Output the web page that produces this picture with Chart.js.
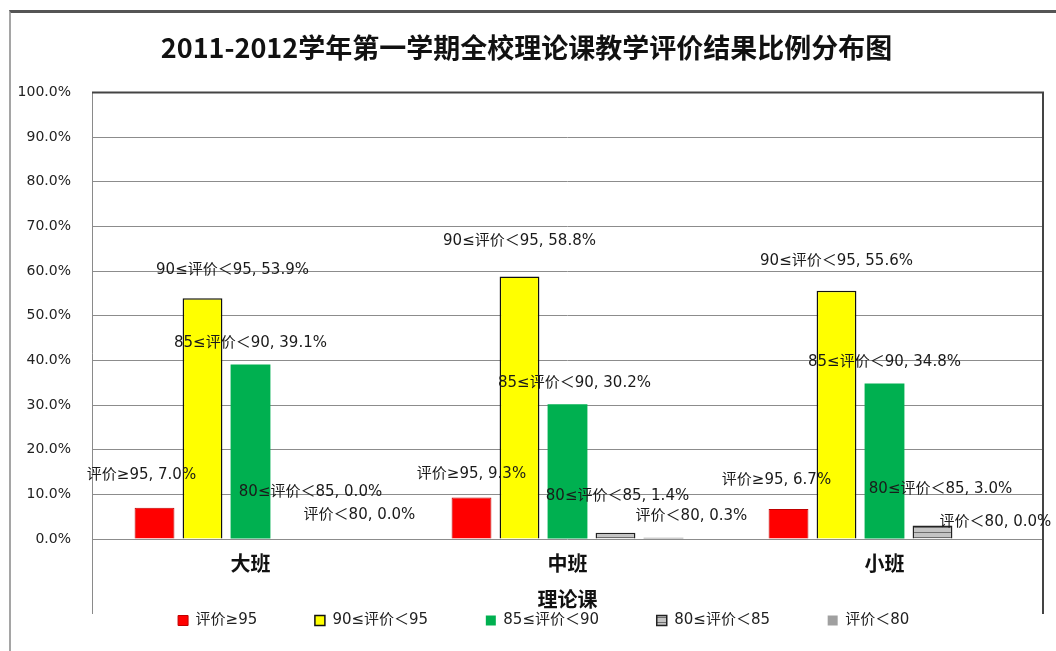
<!DOCTYPE html>
<html>
<head>
<meta charset="utf-8">
<title>2011-2012学年第一学期全校理论课教学评价结果比例分布图</title>
<script src="https://cdn.jsdelivr.net/npm/chart.js@4.4.0/dist/chart.umd.min.js"></script>
<style>
    html, body { margin: 0; padding: 0; background: #fff; }
    #wrap { position: relative; width: 1056px; height: 651px; overflow: hidden; }
    #frame { position: absolute; left: 9px; top: 10px; right: -5px; bottom: -5px;
             border-top: 3px solid #555; border-left: 2px solid #a5a5a5; }
    #chart { position: absolute; left: 0; top: 0; }
</style>
</head>
<body>
<div id="wrap">
    <div id="frame"></div>
    <canvas id="chart" width="1056" height="651"></canvas>
</div>
<script>
// Data (percent)
const categories = ['大班', '中班', '小班'];
const seriesNames = ['评价≥95', '90≤评价＜95', '85≤评价＜90', '80≤评价＜85', '评价＜80'];
const above95 = [7.0, 9.3, 6.7];
const from90to95 = [53.9, 58.8, 55.6];
const from85to90 = [39.1, 30.2, 34.8];
const from80to85 = [0.0, 1.4, 3.0];
const below80 = [0.0, 0.3, 0.0];
const yTickLabels = ['0.0%', '10.0%', '20.0%', '30.0%', '40.0%', '50.0%',
                     '60.0%', '70.0%', '80.0%', '90.0%', '100.0%'];

// where each data label sits, relative to the top of its bar (dx, dy)
const labelShift = [
    [[-13, -33], [0, -23], [-12, -29]],
    [[30, -28], [0, -35], [0, -30]],
    [[0, -21], [7, -21], [0, -21]],
    [[12, -47], [2, -37], [8, -36]],
    [[13, -24], [28, -22], [15, -17]]
];

const FONT = '"DejaVu Sans", "Noto Sans CJK SC", sans-serif';
Chart.defaults.font.family = FONT;
Chart.defaults.color = '#222';

// striped gray fill for the 80-85 bars
function stripes() {
    const c = document.createElement('canvas');
    c.width = 6; c.height = 5;
    const g = c.getContext('2d');
    g.fillStyle = '#c4c4c4';
    g.fillRect(0, 0, 6, 5);
    g.fillStyle = '#6e6e6e';
    g.fillRect(0, 2, 6, 1);
    return g.createPattern(c, 'repeat');
}

const plotFrame = {
    id: 'plotFrame',
    afterDatasetsDraw(chart) {
        const { ctx, chartArea: a } = chart;
        const bottom = a.bottom + 75;
        ctx.save();
        ctx.lineWidth = 1;
        ctx.strokeStyle = '#8a8a8a';
        ctx.beginPath();
        ctx.moveTo(a.left + 0.5, a.top);
        ctx.lineTo(a.left + 0.5, bottom);
        ctx.stroke();
        ctx.lineWidth = 2;
        ctx.strokeStyle = '#444';
        ctx.beginPath();
        ctx.moveTo(a.left, a.top);
        ctx.lineTo(a.right, a.top);
        ctx.lineTo(a.right, bottom);
        ctx.stroke();
        ctx.restore();
    }
};

const barLabels = {
    id: 'barLabels',
    afterDraw(chart) {
        const ctx = chart.ctx;
        ctx.save();
        ctx.font = '15px ' + FONT;
        ctx.fillStyle = '#1a1a1a';
        ctx.textAlign = 'center';
        ctx.textBaseline = 'middle';
        chart.data.datasets.forEach((ds, i) => {
            chart.getDatasetMeta(i).data.forEach((bar, j) => {
                const [dx, dy] = labelShift[i][j];
                const text = ds.label + ', ' + ds.data[j].toFixed(1) + '%';
                ctx.fillText(text, bar.x + dx, bar.y + dy);
            });
        });
        ctx.restore();
    }
};

const pad = '          ';

new Chart(document.getElementById('chart'), {
    type: 'bar',
    data: {
        labels: categories,
        datasets: [
            { label: seriesNames[0], data: above95, backgroundColor: '#ff0000', borderColor: '#c00000', borderWidth: 1 },
            { label: seriesNames[1], data: from90to95, backgroundColor: '#ffff00', borderColor: '#111', borderWidth: 1.5 },
            { label: seriesNames[2], data: from85to90, backgroundColor: '#00b050', borderWidth: 0 },
            { label: seriesNames[3], data: from80to85, backgroundColor: stripes(), borderColor: '#222', borderWidth: 1.5 },
            { label: seriesNames[4], data: below80, backgroundColor: '#a0a0a0', borderWidth: 0 }
        ]
    },
    options: {
        responsive: false,
        animation: false,
        categoryPercentage: 0.757,
        barPercentage: 0.83,
        layout: { padding: { top: 12, left: 10, right: 13, bottom: 13 } },
        plugins: {
            title: {
                display: true,
                text: '2011-2012学年第一学期全校理论课教学评价结果比例分布图',
                color: '#111',
                font: { family: '"Noto Sans CJK SC", sans-serif', size: 27, weight: 'bold', lineHeight: 1.2 },
                padding: { top: 20, bottom: 28 }
            },
            legend: {
                position: 'bottom',
                fullSize: false,
                labels: {
                    boxWidth: 10,
                    boxHeight: 10,
                    padding: 10,
                    color: '#222',
                    font: { size: 15 },
                    generateLabels(chart) {
                        const items = Chart.defaults.plugins.legend.labels.generateLabels(chart);
                        items.forEach(it => { it.text += pad; });
                        return items;
                    }
                }
            },
            tooltip: { enabled: false }
        },
        scales: {
            x: {
                grid: { display: false, drawTicks: false },
                border: { display: false },
                ticks: { color: '#111', padding: 12, font: { family: '"Noto Sans CJK SC", sans-serif', size: 20, weight: 'bold' } },
                title: {
                    display: true,
                    text: '理论课',
                    color: '#111',
                    font: { family: '"Noto Sans CJK SC", sans-serif', size: 20, weight: 'bold', lineHeight: 1.2 },
                    padding: { top: 0, bottom: -8 }
                },
                afterFit(scale) { scale.height = 64; }
            },
            y: {
                min: 0,
                max: 100,
                grid: { color: '#8c8c8c', lineWidth: 1, drawTicks: false },
                border: { display: false },
                ticks: {
                    stepSize: 100 / (yTickLabels.length - 1),
                    padding: 21,
                    color: '#222',
                    font: { size: 14 },
                    callback: function (value, index) { return yTickLabels[index]; }
                },
                afterFit(scale) { scale.width = 82; }
            }
        }
    },
    plugins: [plotFrame, barLabels]
});
</script>
</body>
</html>
